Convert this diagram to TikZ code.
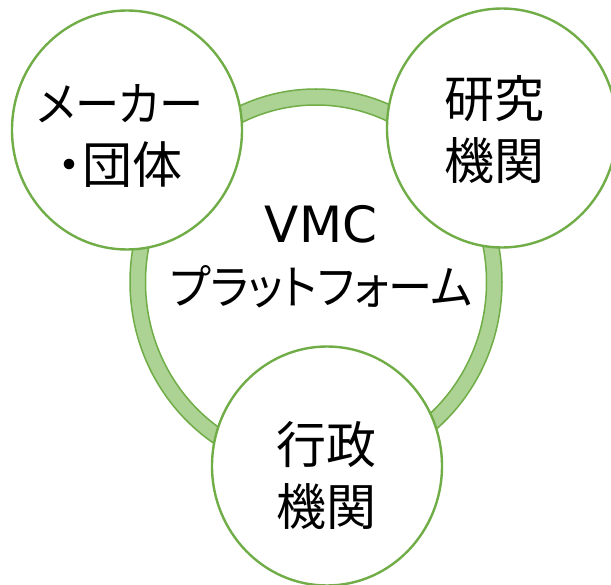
\documentclass[tikz,border=0pt]{standalone}
\usepackage{fontspec}
\usetikzlibrary{shapes.geometric}
\newfontfamily\jpfont[RawFeature=+palt]{Noto Sans CJK JP}
\newfontfamily\jpkana[RawFeature=+palt, FakeStretch=0.94]{Noto Sans CJK JP}
\newfontfamily\latfont{DejaVu Sans}
\newcommand{\kanasize}{\fontsize{47}{62}\selectfont}
\definecolor{ringgreen}{RGB}{112,173,71}
\definecolor{ringfill}{RGB}{172,210,148}
\tikzset{
  member/.style={ellipse, draw=ringgreen, line width=2.4pt, fill=white,
    minimum width=230pt, minimum height=239pt, inner sep=0pt},
  label/.style={align=center, inner sep=0pt, font=\jpfont\fontsize{50}{62}\selectfont, text=black},
}
\begin{document}
\begin{tikzpicture}[x=1pt,y=-1pt]
\useasboundingbox (0,0) rectangle (611,585);
% ring
\path[fill=ringfill, draw=ringgreen, line width=1.5pt, even odd rule]
  (316,282) ellipse [x radius=186, y radius=193]
  (316,282) ellipse [x radius=170.5, y radius=177];
\node[label] (center) at (321,257) {{\latfont\fontsize{50}{62}\selectfont VMC}\\{\jpkana\kanasize プラットフォーム}};
% member circles
\node[member] (maker) at (127,130) {};
\node[member] (kenkyu) at (502,128) {};
\node[member] (gyosei) at (327,466) {};
\node[label] (makertext) at (120,136) {{\jpkana\kanasize メーカー}\\・団体};
\node[label] (kenkyutext) at (494,130) {研究\\機関};
\node[label] (gyoseitext) at (326,476) {行政\\機関};
\end{tikzpicture}
\end{document}
